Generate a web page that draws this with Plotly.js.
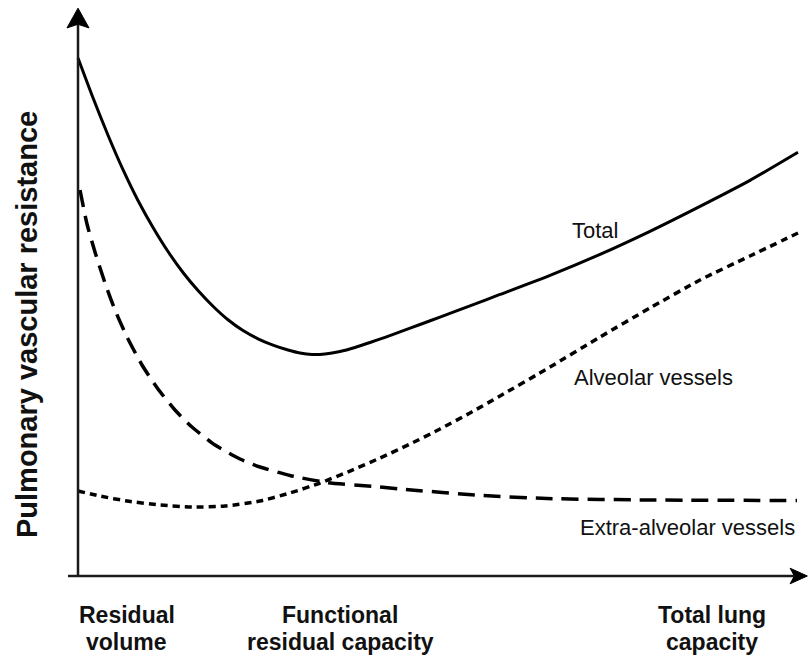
<!DOCTYPE html>
<html>
<head>
<meta charset="utf-8">
<script src="https://cdn.plot.ly/plotly-3.0.1.min.js"></script>
<style>html,body{margin:0;padding:0;background:#fff;}#chart{width:809px;height:656px;}</style>
</head>
<body>
<div id="chart"></div>
<script>
// Lung volume (0 = residual volume, 100 = total lung capacity), resistance in arbitrary units
var totalX = [0, 2.08, 4.17, 6.25, 8.33, 10.42, 12.5, 14.58, 16.67, 18.75, 20.83, 22.92, 25.0, 27.08, 29.17, 30.83, 32.5, 34.31, 36.39, 38.47, 40.56, 42.64, 44.72, 47.5, 50.28, 54.44, 58.61, 65.56, 72.5, 79.44, 86.39, 93.33, 100];
var totalY = [99.62, 91.97, 84.76, 78.13, 72.21, 67.02, 62.40, 58.37, 54.90, 51.88, 49.28, 47.20, 45.62, 44.40, 43.46, 42.88, 42.60, 42.69, 43.17, 43.94, 44.90, 45.90, 46.94, 48.36, 49.79, 51.95, 54.14, 57.82, 61.85, 66.29, 71.09, 76.09, 81.49];

var alvX = [0, 3.06, 6.81, 11.39, 15.97, 20.42, 25.28, 29.44, 33.61, 37.78, 41.94, 46.11, 50.28, 54.44, 58.61, 65.56, 72.5, 79.44, 86.39, 93.33, 100];
var alvY = [16.35, 15.38, 14.42, 13.65, 13.27, 13.46, 14.42, 15.96, 17.88, 20.19, 22.69, 25.38, 28.27, 31.35, 34.62, 40.19, 45.96, 51.54, 56.92, 61.54, 65.96];

var extraX = [0.28, 1.25, 2.36, 3.75, 5.14, 6.81, 8.89, 11.11, 13.47, 15.83, 19.03, 22.5, 25.28, 29.44, 34.58, 41.11, 44.72, 56.25, 65.14, 79.44, 99.86];
var extraY = [74.23, 67.69, 62.31, 56.35, 51.15, 45.96, 40.58, 35.96, 31.92, 28.65, 25.19, 22.5, 20.96, 19.33, 17.98, 17.21, 16.73, 15.48, 14.90, 14.62, 14.52];

var curveLabels = ["Total", "Alveolar vessels", "Extra-alveolar vessels"];
var xCategoryLines = [["Residual", "volume"], ["Functional", "residual capacity"], ["Total lung", "capacity"]];
var xCategoryPos = [6.8, 36.4, 88.1];
var yTitle = "Pulmonary vascular resistance";

var traces = [
  {x: totalX, y: totalY, type: 'scatter', mode: 'lines', name: curveLabels[0],
   line: {color: '#000', width: 3, shape: 'spline', smoothing: 0.6}},
  {x: alvX, y: alvY, type: 'scatter', mode: 'lines', name: curveLabels[1],
   line: {color: '#000', width: 3.5, dash: '7px,5px', shape: 'spline', smoothing: 0.6}},
  {x: extraX, y: extraY, type: 'scatter', mode: 'lines', name: curveLabels[2],
   line: {color: '#000', width: 3.5, dash: '17px,9px', shape: 'spline', smoothing: 0.6}}
];

var annotations = [
  {x: 68.3, y: 66.5, xref: 'x', yref: 'y', text: curveLabels[0], showarrow: false, xanchor: 'left', yanchor: 'middle', font: {size: 22}},
  {x: 68.6, y: 38.1, xref: 'x', yref: 'y', text: curveLabels[1], showarrow: false, xanchor: 'left', yanchor: 'middle', font: {size: 22}},
  {x: 99.9, y: 9.4, xref: 'x', yref: 'y', text: curveLabels[2], showarrow: false, xanchor: 'right', yanchor: 'middle', font: {size: 22}},
  {x: -0.0525, y: 0.4508, xref: 'paper', yref: 'paper', text: '<b>' + yTitle + '</b>', textangle: -90, showarrow: false, xanchor: 'center', yanchor: 'middle', font: {size: 29}}
];
var lineY = [-0.0424, -0.0881];
for (var i = 0; i < xCategoryLines.length; i++) {
  for (var j = 0; j < 2; j++) {
    annotations.push({x: xCategoryPos[i], y: lineY[j], xref: 'x', yref: 'paper', text: '<b>' + xCategoryLines[i][j] + '</b>',
      showarrow: false, xanchor: 'center', yanchor: 'middle', font: {size: 23}});
  }
}

var axisColor = '#1a1a1a';
var shapes = [
  {type: 'line', xref: 'x', yref: 'y', x0: 0, y0: 0, x1: 0, y1: 106.5, line: {color: axisColor, width: 2.5}},
  {type: 'line', xref: 'x', yref: 'y', x0: -1.39, y0: 0, x1: 99.5, y1: 0, line: {color: axisColor, width: 2.5}},
  {type: 'path', xref: 'x', yref: 'y', path: 'M 0 109.2 L -1.53 105.4 L 0 106.1 L 1.53 105.4 Z', fillcolor: '#000', line: {color: '#000', width: 1}},
  {type: 'path', xref: 'x', yref: 'y', path: 'M 101.3 0 L 98.9 1.5 L 99.5 0 L 98.9 -1.5 Z', fillcolor: '#000', line: {color: '#000', width: 1}}
];

var layout = {
  width: 809, height: 656,
  margin: {l: 66, r: 0, t: 0, b: 66},
  paper_bgcolor: '#fff', plot_bgcolor: '#fff',
  showlegend: false,
  font: {family: 'Liberation Sans, Arial, Helvetica, sans-serif', color: '#111'},
  xaxis: {range: [-1.6667, 101.5278], showgrid: false, zeroline: false, showticklabels: false, ticks: '', showline: false, fixedrange: true},
  yaxis: {range: [-2.6923, 110.7692], showgrid: false, zeroline: false, showticklabels: false, ticks: '', showline: false, fixedrange: true},
  annotations: annotations,
  shapes: shapes
};

Plotly.newPlot('chart', traces, layout, {displayModeBar: false, staticPlot: true});
</script>
</body>
</html>
